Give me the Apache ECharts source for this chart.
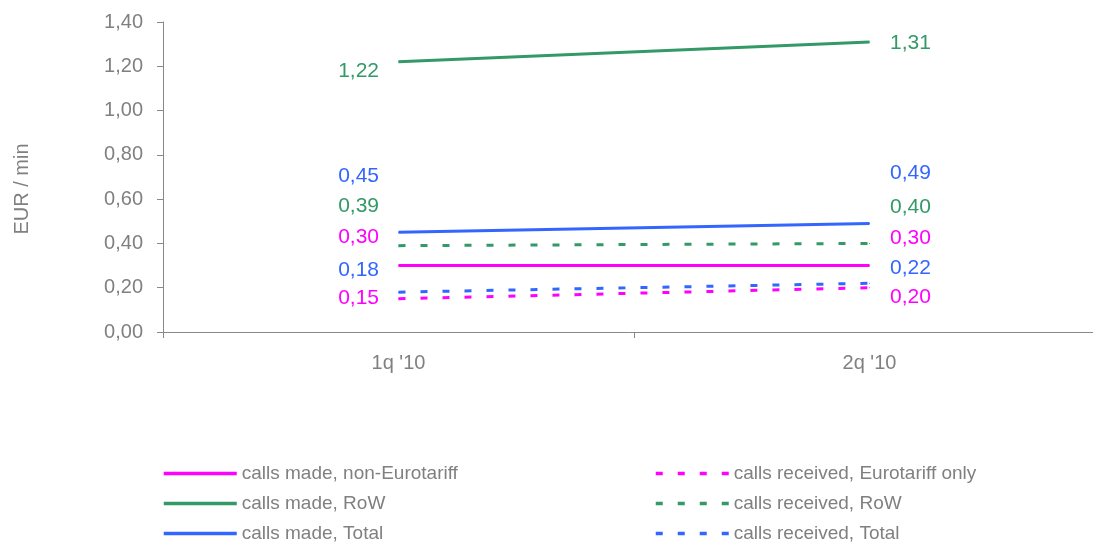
<!DOCTYPE html>
<html><head><meta charset="utf-8">
<script src="https://cdn.jsdelivr.net/npm/echarts@6/dist/echarts.min.js"></script>
<style>html,body{margin:0;padding:0;background:#fff}#c{width:1093px;height:542px}</style>
</head><body><div id="c"></div>
<script>
const categories = ["1q '10", "2q '10"];
const yTicks = [0, 0.2, 0.4, 0.6, 0.8, 1.0, 1.2, 1.4];
const madeNonEuro = [0.30, 0.30];
const madeRoW = [1.22, 1.31];
const madeTotal = [0.45, 0.49];
const recvEuro = [0.15, 0.20];
const recvRoW = [0.39, 0.40];
const recvTotal = [0.18, 0.22];

const MAG = '#FF00FF', GRN = '#339966', BLU = '#3366FF', GRAY = '#808080';
const fmt = v => v.toFixed(2).replace('.', ',');

function mk(name, vals, color, dashed, offL, offR) {
  return {
    name, type: 'line', symbol: 'circle', symbolSize: 1, showSymbol: true,
    color: color, itemStyle: { color },
    lineStyle: { color, width: 3, type: dashed ? [7, 15] : 'solid' },
    data: vals.map((v, i) => ({
      value: v,
      label: {
        show: true, color, fontSize: 21, fontFamily: 'Liberation Sans, Arial',
        position: i === 0 ? 'left' : 'right',
        distance: i === 0 ? 19 : 20,
        offset: [0, i === 0 ? offL : offR],
        formatter: p => fmt(p.value)
      }
    }))
  };
}

const series = [
  mk('calls made, non-Eurotariff', madeNonEuro, MAG, false, -28, -27),
  mk('calls made, RoW', madeRoW, GRN, false, 9, 1),
  mk('calls made, Total', madeTotal, BLU, false, -56, -50),
  mk('calls received, Eurotariff only', recvEuro, MAG, true, -1, 9),
  mk('calls received, RoW', recvRoW, GRN, true, -39, -36),
  mk('calls received, Total', recvTotal, BLU, true, -22, -15)
];

const legendCommon = {
  orient: 'vertical', itemWidth: 73, itemHeight: 10, itemGap: 11, height: 120,
  padding: 0,
  itemStyle: { opacity: 0 },
  lineStyle: { width: 3.5 },
  textStyle: { color: GRAY, fontSize: 19, fontFamily: 'Liberation Sans, Arial' },
  top: 464
};

const chart = echarts.init(document.getElementById('c'));
chart.setOption({
  animation: false,
  textStyle: { fontFamily: 'Liberation Sans, Arial' },
  grid: { left: 163, top: 22, width: 942, bottom: 210, containLabel: false, outerBoundsMode: 'none' },
  legend: [
    Object.assign({}, legendCommon, { left: 162, data: series.slice(0, 3).map(s => s.name) }),
    Object.assign({}, legendCommon, { left: 654, data: series.slice(3).map(s => s.name) })
  ],
  xAxis: {
    type: 'category', data: categories, boundaryGap: true,
    axisLine: { lineStyle: { color: '#888', width: 1 } },
    axisTick: { show: true, interval: 0, length: 6, lineStyle: { color: '#888' } },
    axisLabel: { color: GRAY, fontSize: 20, margin: 21 }
  },
  yAxis: {
    type: 'value', min: yTicks[0], max: yTicks[yTicks.length - 1], interval: 0.2,
    name: 'EUR / min', nameLocation: 'middle', nameGap: 131, nameRotate: 90,
    nameTextStyle: { color: GRAY, fontSize: 20, padding: [0, 24, 0, 0] },
    axisLine: { show: true, lineStyle: { color: '#888', width: 1 } },
    axisTick: { show: true, length: 6, lineStyle: { color: '#888' } },
    splitLine: { show: false },
    axisLabel: { color: GRAY, fontSize: 20, margin: 20, formatter: v => fmt(v) }
  },
  series
});
</script></body></html>
